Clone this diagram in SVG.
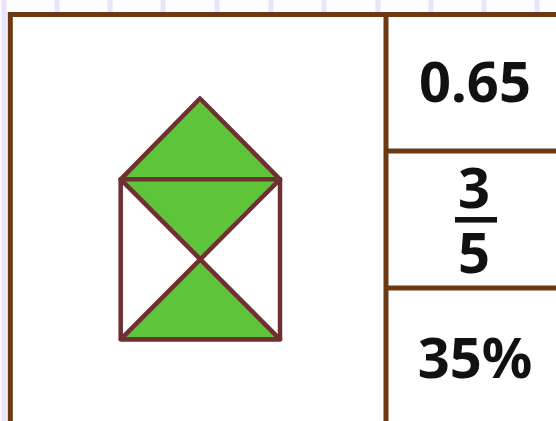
<svg xmlns="http://www.w3.org/2000/svg" width="556" height="421" viewBox="0 0 556 421">
<defs>
<style>
.grid{stroke:#ebe3f8;stroke-width:5}
.frame{fill:none;stroke:#6b3a12;stroke-width:5}
.fig{stroke:#6e3030;stroke-width:4.5;stroke-linejoin:round;stroke-linecap:round}
.num{font-family:"Noto Sans","Open Sans","DejaVu Sans",sans-serif;font-weight:700;font-size:56px;fill:#111;text-anchor:middle}
</style>
</defs>
<rect width="556" height="421" fill="#fdfcff"/>
<g id="grid">
<line class="grid" x1="4" y1="0" x2="4" y2="421"/>
<line class="grid" x1="57" y1="0" x2="57" y2="12"/>
<line class="grid" x1="110" y1="0" x2="110" y2="12"/>
<line class="grid" x1="163" y1="0" x2="163" y2="12"/>
<line class="grid" x1="217" y1="0" x2="217" y2="12"/>
<line class="grid" x1="271" y1="0" x2="271" y2="12"/>
<line class="grid" x1="324" y1="0" x2="324" y2="12"/>
<line class="grid" x1="378" y1="0" x2="378" y2="12"/>
<line class="grid" x1="431" y1="0" x2="431" y2="12"/>
<line class="grid" x1="484" y1="0" x2="484" y2="12"/>
<line class="grid" x1="537" y1="0" x2="537" y2="12"/>
</g>
<g id="table">
<rect x="10.3" y="14.5" width="600" height="500" fill="#ffffff" stroke="none"/>
<rect class="frame" x="10.3" y="14.5" width="600" height="500"/>
<line class="frame" x1="386" y1="14" x2="386" y2="425"/>
<line class="frame" x1="386" y1="151" x2="560" y2="151"/>
<line class="frame" x1="386" y1="288" x2="560" y2="288"/>
</g>
<g id="figure">
<polygon class="fig" points="120.7,179.3 280,179.3 280,339.3 120.7,339.3" fill="#ffffff"/>
<polygon class="fig" points="120.7,179.3 200,98.5 280,179.3" fill="#5ec43a"/>
<polygon class="fig" points="120.7,179.3 280,179.3 200.3,259.3" fill="#5ec43a"/>
<polygon class="fig" points="200.3,259.3 280,339.3 120.7,339.3" fill="#5ec43a"/>
</g>
<g id="cell-decimal"><text class="num" x="475" y="101.5">0.65</text></g>
<g id="cell-fraction">
<text class="num" x="474" y="208">3</text>
<rect x="455" y="217" width="42" height="5.6" fill="#111"/>
<text class="num" x="474" y="273">5</text>
</g>
<g id="cell-percent"><text class="num" x="475" y="378">35%</text></g>
</svg>
